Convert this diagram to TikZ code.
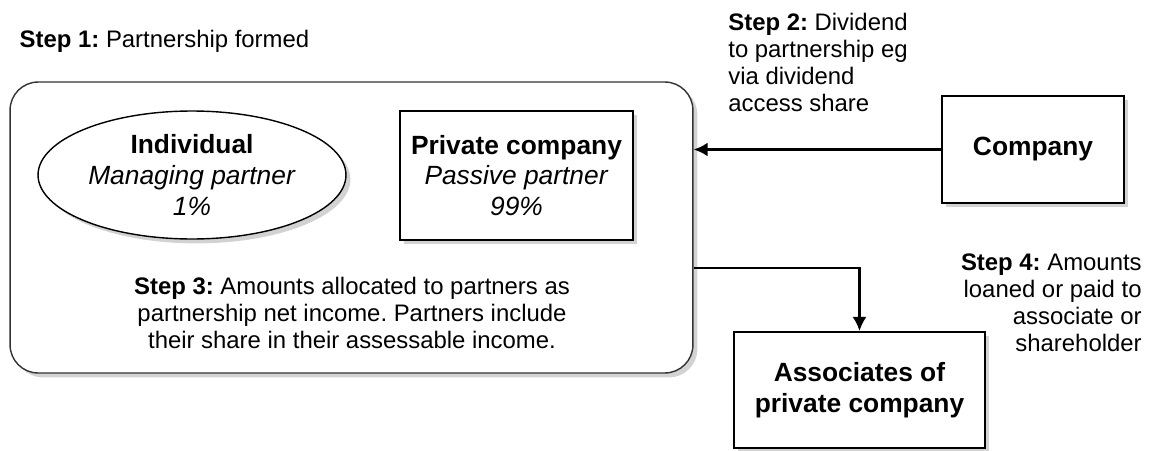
\documentclass[tikz,border=0pt]{standalone}
\usepackage{fontspec}
\setmainfont{Liberation Sans}
\frenchspacing
\usetikzlibrary{positioning,shapes,shadows,arrows.meta}

\tikzset{
	box/.style={draw,line width=1.1pt,fill=white,align=center,
		font=\fontsize{15}{17.6}\selectfont,
		drop shadow={shadow xshift=2.5pt,shadow yshift=-2.5pt,opacity=0.35}},
	note/.style={inner sep=0pt,font=\fontsize{13.6}{15.4}\selectfont},
	link/.style={line width=1.5pt,-{Latex[length=8pt,width=8pt]}}
}

\begin{document}
\begin{tikzpicture}[x=0.02cm,y=-0.02cm]
		\useasboundingbox (0,0) rectangle (1150,450);
		\begin{scope}
			\node(1)[box,line width=0.8pt,draw=black!80,rounded corners=16pt,minimum width=13.66cm,minimum height=5.82cm] at (351.5,227.5) {};
			\node(2)[box,ellipse,line width=0.8pt,inner sep=0pt,minimum width=6.16cm,minimum height=2.56cm] at (192,175) {\textbf{Individual}\\\textit{Managing partner}\\\textit{1\%}};
			\node(3)[box,inner sep=0pt,minimum width=4.66cm,minimum height=2.58cm] at (516.5,175.5) {\textbf{Private company}\\\textit{Passive partner}\\\textit{99\%}};
			\node(4)[box,minimum width=3.64cm,minimum height=2.14cm] at (1033,149.5) {\textbf{Company}};
			\node(5)[box,minimum width=5.02cm,minimum height=2.32cm] at (859.5,390) {\textbf{Associates of}\\\textbf{private company}};
		\end{scope}
		\begin{scope}
			\node(6)[note,above right=0.68cm and 0.2cm of 1.north west,anchor=base west] {\textbf{Step 1:} Partnership formed};
			\node(7)[note,anchor=north west,align=left] at (728,13) {\textbf{Step 2:} Dividend\\to partnership eg\\via dividend\\access share};
			\node(8)[note,anchor=north,align=center] at (352,277) {\textbf{Step 3:} Amounts allocated to partners as\\partnership net income. Partners include\\their share in their assessable income.};
			\node(9)[note,anchor=north east,align=right] at (1142,253) {\textbf{Step 4:} Amounts\\loaned or paid to\\associate or\\shareholder};
			\draw[link] (4.west) -- (4.west -| 1.east);
			\draw[link] ([yshift=-0.81cm]1.east) -| (5.north);
		\end{scope}
	\end{tikzpicture}
\end{document}
